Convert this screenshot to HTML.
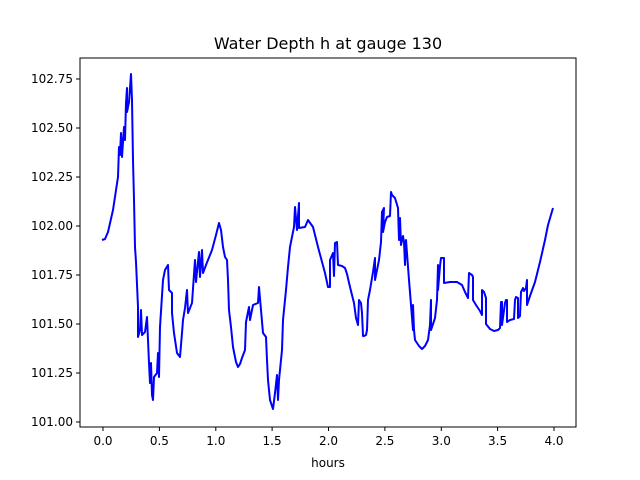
<!DOCTYPE html>
<html><head><meta charset="utf-8"><style>body{margin:0;background:#fff}svg{display:block;font-family:"DejaVu Sans","Liberation Sans",sans-serif}</style></head><body>
<svg width="640" height="480" viewBox="0 0 640 480">
<rect width="640" height="480" fill="#fff"/>
<text x="328" y="49" font-size="16" text-anchor="middle" fill="#000">Water Depth h at gauge 130</text>
<polyline fill="none" stroke="#0000ff" stroke-width="2" stroke-linejoin="round" points="102,240 105,239 108,232 113,210 118,177 119,147 120,155 121,133 122,157 124,127 125,140 126,103 127,88 127,112 129,102 131,74 132,100 133,160 134,200 135,247 136,262 138,307 138,337 140,330 141,310 142,335 145,332 147,317 148,340 149,363 150,383 151,363 152,395 153,400 154,377 157,373 158,353 159,377 160,327 163,280 165,270 168,265 169,290 172,293 172,313 174,333 177,353 180,357 182,333 183,320 185,308 187,290 188,313 192,303 195,260 196,282 199,252 200,277 202,250 203,273 206,265 212,250 216,235 219,223 221,230 223,247 225,257 227,260 228,280 229,310 231,327 233,347 236,362 238,367 240,364 242,358 245,350 246,322 249,307 250,320 253,305 258,303 259,287 261,310 263,333 266,337 267,360 268,380 270,400 273,409 275,393 277,375 278,400 279,380 282,350 283,320 286,290 288,267 290,247 294,227 295,207 297,230 299,203 299,228 305,227 308,220 313,227 318,247 325,273 328,287 330,287 330,260 333,253 334,276 335,243 337,242 338,265 342,266 345,268 347,274 350,287 354,303 356,318 358,325 359,300 361,303 362,313 363,336 364,336 366,335 367,330 368,300 370,290 373,272 375,258 375,280 379,260 381,242 382,212 384,208 383,232 385,222 387,217 390,216 391,192 392,195 395,198 398,208 399,240 400,218 401,245 403,236 404,242 405,265 406,240 409,280 411,305 413,330 413,305 414,330 415,340 419,346 422,349 425,346 428,340 430,325 431,300 431,330 435,318 437,300 438,265 438,290 440,266 441,258 444,258 444,283 450,282 457,282 462,285 465,292 468,298 469,273 472,275 473,277 473,300 476,305 480,311 482,315 482,290 484,292 486,298 486,324 490,329 494,331 498,330 500,328 501,302 502,302 502,325 505,303 506,300 507,300 507,322 510,320 514,319 515,300 516,297 518,298 518,318 520,316 521,292 523,288 524,291 526,288 527,280 527,305 530,296 535,282 540,262 545,240 548,225 553,208"/>
<rect x="80" y="58" width="496" height="369" fill="none" stroke="#000" stroke-width="1"/>
<g stroke="#000" stroke-width="1">
<line x1="103" y1="427" x2="103" y2="431"/><line x1="159.4" y1="427" x2="159.4" y2="431"/><line x1="215.8" y1="427" x2="215.8" y2="431"/><line x1="272.1" y1="427" x2="272.1" y2="431"/><line x1="328.5" y1="427" x2="328.5" y2="431"/><line x1="384.9" y1="427" x2="384.9" y2="431"/><line x1="441.3" y1="427" x2="441.3" y2="431"/><line x1="497.6" y1="427" x2="497.6" y2="431"/><line x1="554" y1="427" x2="554" y2="431"/>
<line x1="76" y1="422" x2="80" y2="422"/><line x1="76" y1="373" x2="80" y2="373"/><line x1="76" y1="324" x2="80" y2="324"/><line x1="76" y1="275" x2="80" y2="275"/><line x1="76" y1="226" x2="80" y2="226"/><line x1="76" y1="177" x2="80" y2="177"/><line x1="76" y1="128" x2="80" y2="128"/><line x1="76" y1="79" x2="80" y2="79"/>
</g>
<g font-size="12" fill="#000" text-anchor="middle">
<text x="103" y="445">0.0</text><text x="159.4" y="445">0.5</text><text x="215.8" y="445">1.0</text><text x="272.1" y="445">1.5</text><text x="328.5" y="445">2.0</text><text x="384.9" y="445">2.5</text><text x="441.3" y="445">3.0</text><text x="497.6" y="445">3.5</text><text x="554" y="445">4.0</text>
<text x="328" y="467">hours</text>
</g>
<g font-size="12" fill="#000" text-anchor="end">
<text x="73" y="426">101.00</text><text x="73" y="377">101.25</text><text x="73" y="328">101.50</text><text x="73" y="279">101.75</text><text x="73" y="230">102.00</text><text x="73" y="181">102.25</text><text x="73" y="132">102.50</text><text x="73" y="83">102.75</text>
</g>
</svg>
</body></html>
